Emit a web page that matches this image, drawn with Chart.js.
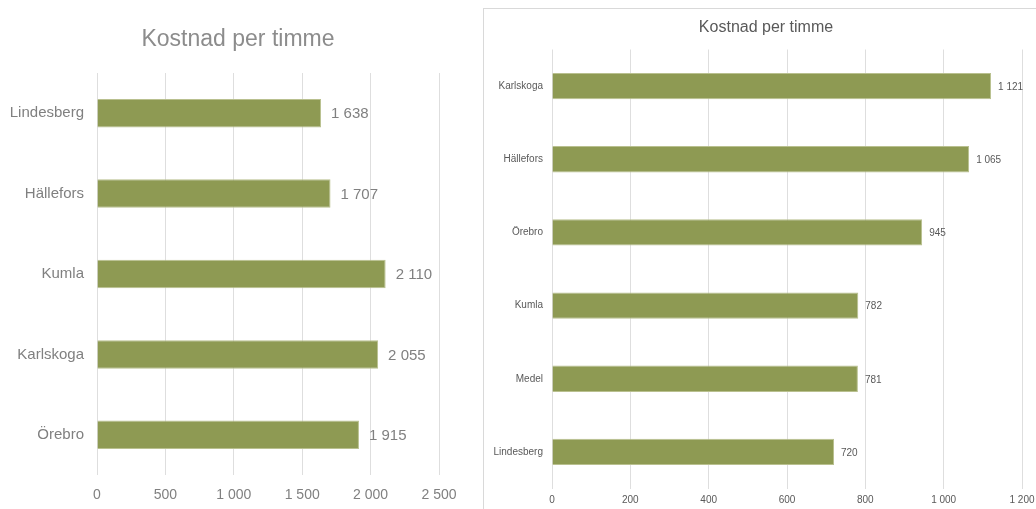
<!DOCTYPE html>
<html>
<head>
<meta charset="utf-8">
<script src="https://cdn.jsdelivr.net/npm/chart.js@4"></script>
<style>
  body { margin: 0; background: #fff; width: 1036px; height: 509px; overflow: hidden; position: relative; }
  #left { position: absolute; left: 0; top: 0; }
  #box { position: absolute; left: 483px; top: 8px; width: 600px; height: 520px; border: 1px solid #d9d9d9; }
  #right { position: absolute; left: 0; top: 0; }
</style>
</head>
<body>
<canvas id="left" width="480" height="509"></canvas>
<div id="box"><canvas id="right" width="560" height="500"></canvas></div>
<script>
// left chart
const leftCats = ['Lindesberg', 'Hällefors', 'Kumla', 'Karlskoga', 'Örebro']
const leftValues = [1638, 1707, 2110, 2055, 1915]
// right chart
const rightCats = ['Karlskoga', 'Hällefors', 'Örebro', 'Kumla', 'Medel', 'Lindesberg']
const rightValues = [1121, 1065, 945, 782, 781, 720]

const titleText = 'Kostnad per timme'
const barColor = '#8e9a53'
const font = "'Liberation Sans', Arial, sans-serif"

function fmt (n) {
  return String(n).replace(/\B(?=(\d{3})+(?!\d))/g, ' ')
}

// draws value next to bar end
const valueLabels = {
  id: 'valueLabels',
  afterDatasetsDraw (chart, args, opts) {
    const ctx = chart.ctx
    const meta = chart.getDatasetMeta(0)
    ctx.save()
    ctx.font = opts.size + 'px ' + font
    ctx.fillStyle = opts.color
    ctx.textBaseline = 'middle'
    ctx.textAlign = 'left'
    meta.data.forEach((bar, i) => {
      ctx.fillText(fmt(chart.data.datasets[0].data[i]), bar.x + opts.offset, bar.y + 1)
    })
    ctx.restore()
  }
}

// title placed freely (built-in one centers on the whole canvas)
const freeTitle = {
  id: 'freeTitle',
  afterDraw (chart, args, opts) {
    const ctx = chart.ctx
    ctx.save()
    ctx.font = opts.size + 'px ' + font
    ctx.fillStyle = opts.color
    ctx.textAlign = 'center'
    ctx.textBaseline = 'middle'
    ctx.fillText(opts.text, opts.x, opts.y)
    ctx.restore()
  }
}

function makeChart (id, cats, values, cfg) {
  return new Chart(document.getElementById(id), {
    type: 'bar',
    data: {
      labels: cats,
      datasets: [{
        data: values,
        backgroundColor: barColor,
        borderColor: '#b9c08f',
        borderWidth: 1,
        categoryPercentage: 1,
        barPercentage: cfg.barPct
      }]
    },
    options: {
      indexAxis: 'y',
      responsive: false,
      animation: false,
      layout: { padding: { left: 0, right: cfg.padRight, top: cfg.padTop, bottom: 0 } },
      plugins: {
        legend: { display: false },
        tooltip: { enabled: false },
        title: { display: false },
        freeTitle: { text: titleText, size: cfg.titleSize, color: cfg.titleColor, x: cfg.titleX, y: cfg.titleY },
        valueLabels: { size: cfg.labelSize, color: cfg.textColor, offset: cfg.labelOffset }
      },
      scales: {
        x: {
          min: 0,
          max: cfg.max,
          border: { display: false },
          grid: { color: '#dedede', drawTicks: false },
          afterFit: (s) => { s.height = cfg.xHeight },
          ticks: {
            stepSize: cfg.step,
            padding: cfg.xPad,
            color: cfg.textColor,
            font: { family: font, size: cfg.tickSize },
            callback: (v) => fmt(v)
          }
        },
        y: {
          border: { display: false },
          grid: { display: false, drawTicks: false },
          afterFit: (s) => { s.width = cfg.yWidth },
          ticks: {
            padding: cfg.yPad,
            color: cfg.textColor,
            font: { family: font, size: cfg.catSize }
          }
        }
      }
    },
    plugins: [valueLabels, freeTitle]
  })
}

makeChart('left', leftCats, leftValues, {
  barPct: 0.355,
  padTop: 73,
  padRight: 41,
  max: 2500,
  step: 500,
  titleColor: '#8c8c8c',
  titleSize: 23,
  titleX: 238,
  titleY: 40,
  textColor: '#808080',
  labelSize: 15,
  labelOffset: 10,
  tickSize: 14,
  catSize: 15,
  xHeight: 34,
  xPad: 12,
  yWidth: 97,
  yPad: 13
})

makeChart('right', rightCats, rightValues, {
  barPct: 0.36,
  padTop: 40.5,
  padRight: 22,
  max: 1200,
  step: 200,
  titleColor: '#595959',
  titleSize: 16,
  titleX: 282,
  titleY: 19,
  textColor: '#595959',
  labelSize: 10,
  labelOffset: 7,
  tickSize: 10,
  catSize: 10,
  xHeight: 20.5,
  xPad: 6,
  yWidth: 68,
  yPad: 9
})
</script>
</body>
</html>
